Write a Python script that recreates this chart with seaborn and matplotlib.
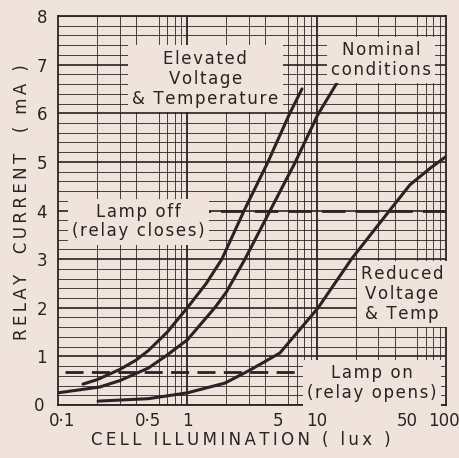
import numpy as np
import pandas as pd
import matplotlib
matplotlib.use("Agg")
import matplotlib.pyplot as plt
import matplotlib.transforms as mtransforms
import seaborn as sns
from matplotlib.ticker import FixedLocator, NullFormatter

sns.set_style("white")
plt.rcParams['font.family'] = ['DejaVu Sans']

BG = "#efe3db"
INK = "#2a2224"

# Data
elev_x = [0.156, 0.2, 0.3, 0.4, 0.5, 0.7, 1.0, 1.4, 1.85, 2.75, 4.17, 6.2, 7.7]
elev_y = [0.43, 0.52, 0.73, 0.92, 1.12, 1.5, 2.0, 2.5, 3.0, 4.0, 4.98, 6.0, 6.5]
nom_x = [0.1, 0.21, 0.3, 0.5, 0.7, 1.0, 1.63, 2.0, 2.79, 4.37, 6.79, 10.2, 14.4]
nom_y = [0.25, 0.37, 0.50, 0.76, 1.03, 1.34, 2.0, 2.32, 3.0, 4.0, 4.98, 5.97, 6.63]
red_x = [0.204, 0.5, 1.0, 1.95, 3.06, 5.2, 10.2, 18.8, 36.9, 52.7, 75.5, 100]
red_y = [0.08, 0.13, 0.25, 0.45, 0.72, 1.07, 1.99, 3.02, 4.01, 4.53, 4.87, 5.11]

lamp_off_x = [1.0, 100]
lamp_off_y = [4.0, 4.0]
lamp_on_x = [0.113, 9.8]
lamp_on_y = [0.68, 0.68]

x_ticks = [0.1, 0.5, 1, 5, 10, 50, 100]
x_tick_labels = ["0·1", "0·5", "1", "5", "10", "50", "100"]
y_ticks = [0, 1, 2, 3, 4, 5, 6, 7, 8]

x_title = "CELL ILLUMINATION ( lux )"
y_title = "RELAY  CURRENT  ( mA )"
lbl_elev = "Elevated\nVoltage\n& Temperature"
lbl_nom = "Nominal\nconditions"
lbl_red = "Reduced\nVoltage\n& Temp"
lbl_off = "Lamp off\n(relay closes)"
lbl_on = "Lamp on\n(relay opens)"


def track(s, sp="\u200a"):
    return "\n".join(sp.join(line) for line in s.split("\n"))


fig = plt.figure(figsize=(4.59, 4.58), dpi=100, facecolor=BG)
ax = fig.add_axes([58 / 459, 1 - 405 / 458, 388 / 459, 389 / 458])
ax.set_facecolor(BG)
ax.set_xscale("log")
ax.set_xlim(0.1, 100)
ax.set_ylim(0, 8)

for xs, ys in [(elev_x, elev_y), (nom_x, nom_y), (red_x, red_y)]:
    df = pd.DataFrame({"x": xs, "y": ys})
    sns.lineplot(data=df, x="x", y="y", ax=ax, color=INK, lw=2.2, zorder=4)
ax.set_xlabel("")
ax.set_ylabel("")

# grid
minor_x = [m * 10.0 ** e for e in (-1, 0, 1) for m in range(2, 10)]
ax.xaxis.set_minor_locator(FixedLocator(minor_x))
ax.xaxis.set_minor_formatter(NullFormatter())
ax.yaxis.set_minor_locator(FixedLocator(np.arange(0, 8.01, 0.2)))
ax.xaxis.set_major_locator(FixedLocator(x_ticks))
ax.set_xticklabels(x_tick_labels)
ax.set_yticks(y_ticks)
for xv in [1, 10]:
    ax.axvline(xv, color=INK, lw=1.3, zorder=1)
ax.grid(which="minor", color=INK, lw=0.6, zorder=0)
ax.grid(which="major", axis="y", color=INK, lw=1.2, zorder=0)
ax.tick_params(which="both", length=0, labelsize=12, colors=INK)
ax.tick_params(axis="x", pad=5)
ax.tick_params(axis="y", pad=8)
for s in ax.spines.values():
    s.set_color(INK)
    s.set_linewidth(1.3)

xl = ax.get_xticklabels()
xl[0].set_transform(xl[0].get_transform() + mtransforms.ScaledTranslation(4 / 100, 0, fig.dpi_scale_trans))
xl[-1].set_transform(xl[-1].get_transform() + mtransforms.ScaledTranslation(-2 / 100, 0, fig.dpi_scale_trans))
yl = ax.get_yticklabels()
yl[0].set_transform(yl[0].get_transform() + mtransforms.ScaledTranslation(-3 / 100, 1 / 100, fig.dpi_scale_trans))

ax.plot(lamp_off_x, lamp_off_y, color=INK, lw=2.0, ls=(0, (8.5, 3.6)), zorder=4)
ax.plot(lamp_on_x, lamp_on_y, color=INK, lw=2.0, ls=(0, (6.5, 3.0)), zorder=4)

fig.text(241 / 459, 1 - 440 / 458, track(x_title, "\u2009"), ha="center", va="center",
         fontsize=12, color=INK)
fig.text(22 / 459, 1 - 202 / 458, track(y_title, "\u2009"), ha="center", va="center",
         rotation=90, fontsize=12, color=INK)

box = dict(boxstyle="square,pad=0.25", fc=BG, ec="none")
kw = dict(ha="center", va="center", fontsize=12, color=INK, bbox=box, zorder=5)
ax.text(1.38, 6.71, track(lbl_elev), linespacing=1.15, **kw)
ax.text(31.5, 7.09, track(lbl_nom), linespacing=1.15, **kw)
ax.text(45.7, 2.28, track(lbl_red), linespacing=1.15, **kw)
ax.text(0.416, 3.77, track(lbl_off), linespacing=1.1, **kw)
ax.text(26.8, 0.45, track(lbl_on), linespacing=1.1, **kw)

fig.savefig("out.png", dpi=100, facecolor=BG)
